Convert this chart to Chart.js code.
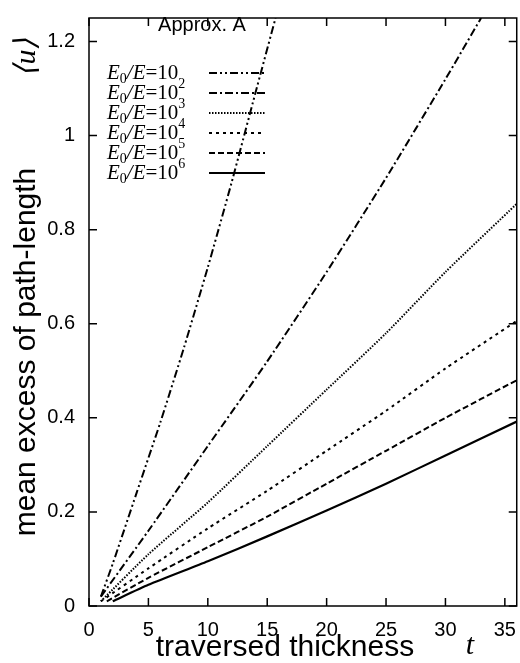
<!DOCTYPE html>
<html><head><meta charset="utf-8">
<script src="https://cdn.jsdelivr.net/npm/chart.js@4/dist/chart.umd.min.js"></script>
<style>html,body{margin:0;background:#fff}#w{width:520px;height:663px}</style>
</head><body><div id="w"><canvas id="c"></canvas></div>
<script>
const labels=["E₀/E=10","E₀/E=10²","E₀/E=10³","E₀/E=10⁴","E₀/E=10⁵","E₀/E=10⁶"];
const sups=["","2","3","4","5","6"];
const t1=[1,2,4,6,8,10,12,14,15.7];
const u1=[0.02,0.09,0.24,0.39,0.55,0.72,0.90,1.09,1.25];
const t2=[1,5,10,15,20,25,30,33];
const u2=[0.02,0.16,0.34,0.52,0.71,0.91,1.12,1.25];
const t3=[1,5,10,15,20,25,30,36];
const u3=[0.01,0.11,0.22,0.34,0.46,0.58,0.71,0.855];
const t4=[1,5,10,15,20,25,30,36];
const u4=[0.01,0.08,0.165,0.245,0.33,0.415,0.505,0.606];
const t5=[1.5,5,10,15,20,25,30,36];
const u5=[0.01,0.06,0.125,0.19,0.26,0.33,0.40,0.48];
const t6=[2,5,10,15,20,25,30,36];
const u6=[0.01,0.045,0.095,0.148,0.203,0.26,0.32,0.392];
const xTicks=[0,5,10,15,20,25,30,35];
const yTicks=[0,0.2,0.4,0.6,0.8,1,1.2];
const dashes=[[8,3,2,3,2,3],[8,3,2,3],[1.5,1.5],[3,4],[6,3],[]];
const series=[[t1,u1],[t2,u2],[t3,u3],[t4,u4],[t5,u5],[t6,u6]];
const datasets=series.map((s,i)=>({label:labels[i],data:s[0].map((x,j)=>({x,y:s[1][j]})),showLine:true,pointRadius:0,borderColor:'#000',borderWidth:i==5?2.2:2,borderDash:dashes[i],tension:0.2}));
const deco={id:'deco',afterDraw(ch){const c=ch.ctx,a=ch.chartArea,sx=ch.scales.x,sy=ch.scales.y;c.save();
c.strokeStyle='#000';c.lineWidth=1.5;c.setLineDash([]);c.strokeRect(a.left,a.top,a.right-a.left,a.bottom-a.top);
c.beginPath();xTicks.forEach(v=>{const p=sx.getPixelForValue(v);c.moveTo(p,a.bottom);c.lineTo(p,a.bottom-8);c.moveTo(p,a.top);c.lineTo(p,a.top+8);});
yTicks.forEach(v=>{const p=sy.getPixelForValue(v);c.moveTo(a.left,p);c.lineTo(a.left+8,p);c.moveTo(a.right,p);c.lineTo(a.right-8,p);});c.stroke();
c.fillStyle='#000';c.font='20px "Liberation Sans"';c.textBaseline='middle';c.textAlign='center';c.fillText('Approx. A',202,25);
c.textAlign='left';
labels.forEach((l,i)=>{const y=73+i*20;let x=107;
c.font='italic 21px "Liberation Serif"';c.fillText('E',x,y);x+=c.measureText('E').width;
c.font='14px "Liberation Serif"';c.fillText('0',x,y+6);x+=c.measureText('0').width;
c.font='italic 21px "Liberation Serif"';c.fillText('/E',x,y);x+=c.measureText('/E').width;
c.font='21px "Liberation Serif"';c.fillText('=10',x,y);x+=c.measureText('=10').width;
c.font='14px "Liberation Serif"';if(sups[i])c.fillText(sups[i],x,y-9);
c.beginPath();c.setLineDash(dashes[i]);c.lineWidth=i==5?2.2:2;c.moveTo(209,y);c.lineTo(265,y);c.stroke();});
c.setLineDash([]);
c.font='30px "Liberation Sans"';c.textAlign='center';c.fillText('traversed thickness',285,648);
c.font='italic 30px "Liberation Serif"';c.fillText('t',470,646);
c.translate(27,0);c.rotate(-Math.PI/2);
c.font='30px "Liberation Sans"';c.fillText('mean excess of path-length',-352,0);
c.font='italic 30px "Liberation Serif"';c.fillText('⟨u⟩',-57,0);
c.restore();}};
new Chart(document.getElementById('c'),{type:'scatter',data:{datasets},plugins:[deco],
options:{responsive:true,maintainAspectRatio:false,animation:false,
layout:{padding:{top:1,right:1,left:0,bottom:0}},
plugins:{legend:{display:false},tooltip:{enabled:false}},
scales:{x:{type:'linear',min:0,max:36,afterBuildTicks:s=>{s.ticks=xTicks.map(v=>({value:v}))},afterFit:s=>{s.height=57},
grid:{display:false},border:{display:false},ticks:{color:'#000',font:{size:20,family:'Liberation Sans'},padding:4,maxRotation:0}},
y:{min:0,max:1.25,afterBuildTicks:s=>{s.ticks=yTicks.map(v=>({value:v}))},afterFit:s=>{s.width=89},
grid:{display:false},border:{display:false},ticks:{color:'#000',font:{size:20,family:'Liberation Sans'},padding:6,callback:v=>String(+v.toFixed(1))}}}}});
</script></body></html>
